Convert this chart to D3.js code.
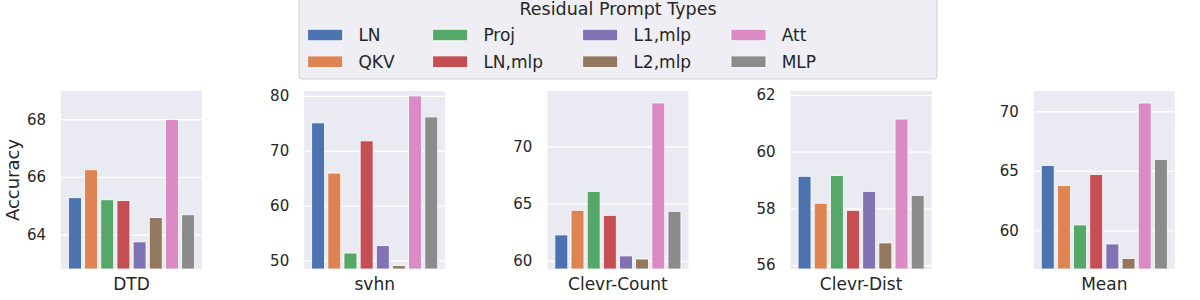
<!DOCTYPE html>
<html>
<head>
<meta charset="utf-8">
<script src="https://cdn.jsdelivr.net/npm/d3@7"></script>
<style>
  body { margin: 0; background: #fff; }
  text { font-family: "DejaVu Sans", sans-serif; fill: #262626; }
</style>
</head>
<body>
<div id="chart"></div>
<script>
// data
var datasets = ["DTD", "svhn", "Clevr-Count", "Clevr-Dist", "Mean"];
var promptTypes = ["LN", "QKV", "Proj", "LN,mlp", "L1,mlp", "L2,mlp", "Att", "MLP"];
var colors = ["#4C72B0", "#DD8452", "#55A868", "#C44E52", "#8172B3", "#937860", "#DA8BC3", "#8C8C8C"];

var dtd        = [65.28, 66.25, 65.21, 65.18, 63.75, 64.59, 67.99, 64.69];
var svhn       = [75.08, 65.92, 51.33, 71.80, 52.68, 49.03, 80.00, 76.17];
var clevrCount = [62.27, 64.42, 66.07, 63.98, 60.44, 60.17, 73.78, 64.33];
var clevrDist  = [59.13, 58.18, 59.16, 57.93, 58.60, 56.78, 61.15, 58.46];
var mean       = [65.45, 63.77, 60.45, 64.69, 58.85, 57.64, 70.69, 65.96];
var allValues = [dtd, svhn, clevrCount, clevrDist, mean];

// y limits and ticks per panel
var yDomains = [[62.81, 68.98], [48.42, 80.9], [59.3, 74.82], [55.86, 62.14], [56.75, 71.7]];
var yTicks = [[64, 66, 68], [50, 60, 70, 80], [60, 65, 70], [56, 58, 60, 62], [60, 65, 70]];

var W = 1200, H = 300;
var panelW = 141, panelTop = 91, panelBottom = 269;
var firstLeft = 61, panelStep = 243.2;

var svg = d3.select("#chart")
  .append("svg")
    .attr("width", W)
    .attr("height", H);

datasets.forEach(function(name, i) {
  var left = firstLeft + i * panelStep;
  var g = svg.append("g")
    .attr("transform", "translate(" + left + ",0)");

  var x = d3.scaleBand()
    .domain(promptTypes)
    .range([0, panelW])
    .paddingInner(0.2)
    .paddingOuter(0.4625);

  var y = d3.scaleLinear()
    .domain(yDomains[i])
    .range([panelBottom, panelTop]);

  // background
  g.append("rect")
    .attr("x", 0)
    .attr("y", panelTop)
    .attr("width", panelW)
    .attr("height", panelBottom - panelTop)
    .style("fill", "#EAEAF2");

  // gridlines
  g.append("g")
    .call(d3.axisLeft(y).tickValues(yTicks[i]).tickSize(-panelW).tickFormat(""))
    .call(function(a) { a.select(".domain").remove(); })
    .selectAll("line")
      .style("stroke", "#fff")
      .style("stroke-width", 1.3);

  // tick labels
  g.append("g")
    .call(d3.axisLeft(y).tickValues(yTicks[i]).tickSize(0).tickPadding(15).tickFormat(d3.format("d")))
    .call(function(a) { a.select(".domain").remove(); })
    .selectAll("text")
      .style("font-size", "15px")
      .style("font-family", "DejaVu Sans")
      .style("fill", "#262626");

  // bars
  g.selectAll(".bar")
    .data(allValues[i])
    .enter().append("rect")
      .attr("class", "bar")
      .attr("x", function(d, j) { return x(promptTypes[j]); })
      .attr("width", x.bandwidth())
      .attr("y", function(d) { return y(d); })
      .attr("height", function(d) { return panelBottom - y(d); })
      .style("fill", function(d, j) { return colors[j]; })
      .style("stroke", "#fff")
      .style("stroke-width", 0.8);

  // x label
  g.append("text")
    .attr("x", panelW / 2)
    .attr("y", 290)
    .style("text-anchor", "middle")
    .style("font-size", "17px")
    .text(name);
});

// y axis title
svg.append("text")
  .attr("transform", "translate(18.5," + ((panelTop + panelBottom) / 2) + ") rotate(-90)")
  .style("text-anchor", "middle")
  .style("font-size", "18px")
  .text("Accuracy");

// legend, 5 columns filled column by column (2 rows)
var legendFont = 17, handleW = 35, handleH = 11.5, handleGap = 15.7;
var legendLeft = 299, legendRight = 937, legendCenter = 618;
var colX = [307.7, 432.7, 582.7, 731, 843.3];
var rowsY = [35, 61.7];
var legend = svg.append("g");

legend.append("rect")
  .attr("x", legendLeft)
  .attr("y", -6)
  .attr("width", legendRight - legendLeft)
  .attr("height", 85)
  .attr("rx", 3)
  .style("fill", "#EEEEF4")
  .style("stroke", "#D0D0D0")
  .style("stroke-width", 1);

promptTypes.forEach(function(t, k) {
  var cx = colX[Math.floor(k / 2)], cy = rowsY[k % 2];
  legend.append("rect")
    .attr("x", cx)
    .attr("y", cy - handleH / 2)
    .attr("width", handleW)
    .attr("height", handleH)
    .style("fill", colors[k])
    .style("stroke", "#fff")
    .style("stroke-width", 0.8);
  legend.append("text")
    .attr("x", cx + handleW + handleGap)
    .attr("y", cy)
    .attr("dy", "0.36em")
    .style("font-size", legendFont + "px")
    .text(t);
});

legend.append("text")
  .attr("x", legendCenter)
  .attr("y", 14.5)
  .style("text-anchor", "middle")
  .style("font-size", "17.5px")
  .text("Residual Prompt Types");
</script>
</body>
</html>
